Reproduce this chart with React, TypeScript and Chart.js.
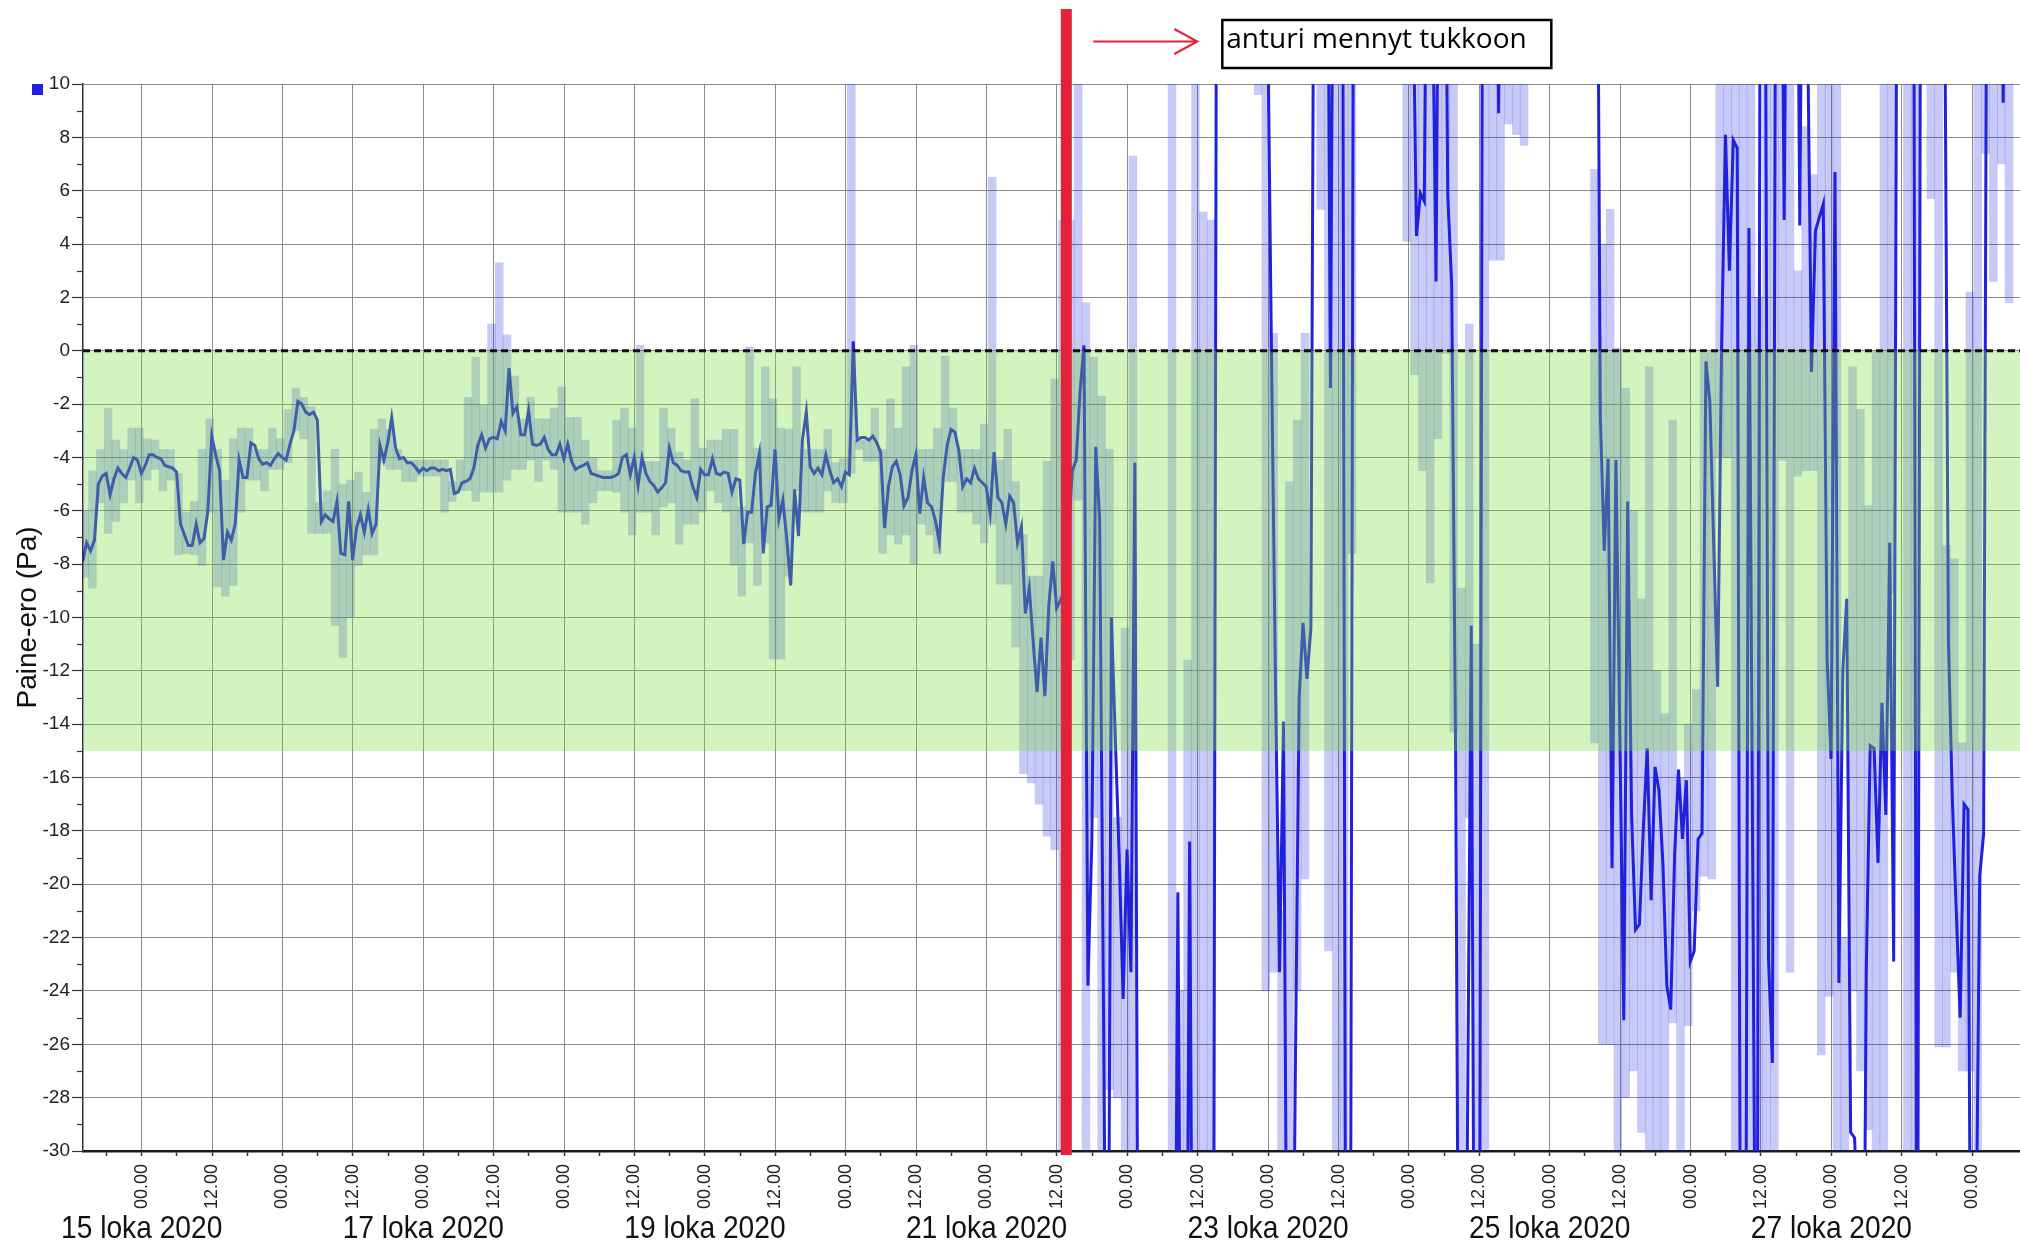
import React, { useEffect, useRef } from 'react';
import { Chart, registerables } from 'chart.js';

Chart.register(...registerables);

// ---- sampling (hours counted from 15 loka 2020 00.00) ----
const sampleStartHour = -10.05;
const sampleStepHours = 40 / 60;

// pressure difference (Pa), mean per sample, before the sensor clogged
const pressureBeforeClog: number[] = [
  -7.9, -7.2, -7.5, -7.1, -5.0, -4.7, -4.6, -5.4, -4.8, -4.4,
  -4.6, -4.75, -4.4, -4.0, -4.1, -4.6, -4.3, -3.9, -3.9, -4.0,
  -4.05, -4.3, -4.35, -4.4, -4.55, -6.5, -6.9, -7.3, -7.3, -6.5,
  -7.2, -7.05, -6.0, -3.2, -3.9, -4.5, -7.85, -6.8, -7.1, -6.5,
  -4.1, -4.75, -4.75, -3.45, -3.55, -4.05, -4.25, -4.2, -4.3, -4.05,
  -3.85, -4.0, -4.1, -3.5, -3.0, -1.9, -2.0, -2.3, -2.4, -2.3,
  -2.6, -6.4, -6.15, -6.3, -6.4, -5.65, -7.6, -7.65, -5.65, -7.85,
  -6.65, -6.15, -6.8, -5.95, -6.85, -6.5, -3.55, -4.1, -3.45, -2.5,
  -3.65, -4.05, -4.0, -4.2, -4.2, -4.35, -4.55, -4.4, -4.5, -4.4,
  -4.4, -4.5, -4.45, -4.5, -4.45, -5.35, -5.3, -4.95, -4.9, -4.8,
  -4.4, -3.55, -3.15, -3.65, -3.3, -3.25, -3.3, -2.65, -3.0, -0.65,
  -2.35, -2.1, -3.15, -3.15, -2.25, -3.5, -3.55, -3.5, -3.25, -3.7,
  -3.9, -3.9, -3.5, -4.05, -3.5, -4.15,
  -4.45, -4.35, -4.3, -4.2, -4.6, -4.65, -4.7, -4.75, -4.75, -4.75,
  -4.7, -4.6, -4.0, -3.9, -4.65, -4.0, -5.05, -4.0, -4.6, -4.9,
  -5.05, -5.3, -5.15, -4.95, -3.65, -4.2, -4.3, -4.5, -4.55, -4.55,
  -5.1, -5.5, -4.45, -4.65, -4.65, -4.05, -4.6, -4.65, -4.55, -4.6,
  -5.3, -4.8, -4.85, -7.25, -6.05, -6.05, -4.6, -3.85, -7.6, -5.85,
  -5.8, -3.7, -6.3, -5.6, -7.05, -8.8, -5.2, -6.95, -3.35, -2.3,
  -4.35, -4.6, -4.4, -4.65, -3.9, -4.5, -4.95, -4.8, -5.1, -4.55,
  -4.65, 0.35, -3.35, -3.25, -3.25, -3.35, -3.2, -3.45, -3.8, -6.65,
  -5.1, -4.35, -4.15, -4.65, -5.8, -5.5, -4.5, -3.9, -6.1, -4.75,
  -5.7, -5.85, -6.35, -7.2, -4.75, -3.55, -2.95, -3.05, -3.75, -5.1,
  -4.8, -4.95, -4.4, -4.8, -4.95, -5.1, -6.1, -3.8, -5.5, -5.7,
  -6.5, -5.45, -5.7, -7.2, -6.6, -9.85, -8.9, -10.9, -12.8, -10.75,
  -12.95, -9.55, -7.9, -9.65, -9.35,
];

// pressure difference (Pa) after the sensor clogged (values beyond the axis range are off-chart)
const pressureAfterClog: number[] = [
  -9.0, -7.0, -4.5, -4.1, -1.5, 0.2, -23.8, -18.4, -3.6, -6.3,
  -25, -45, -10, -14.5, -19, -24.3, -18.7, -23.3, -4.2, -45,
  -45, -45, -45, -45, -45, -45, -45, -45, -45,
  -20.3, -45, -45, -18.4,
  -45, -45, -45, -45, -45, -45,
  25, 25, 25, 25, 25, 25, 25, 25, 25, 25, 25, 25, 25,
  12, -1, -13, -23.3, -13.9, -40, -45, -27.5, -13, -10.2, -12.3, -10.4,
  25, 25, 25, 25,
  -1.4,
  25, 25, 25,
  -45, -45,
  25, 25, 25, 25, 25, 25, 25, 25, 25, 25, 25, 25, 25, 25, 25,
  15, 4.3, 5.9, 5.6, 25, 15, 2.6, 25, 25, 5.8, 2.5, -14.9, -45, -45, -30, -10.3, -45, -45,
  25, 25, 25, 25,
  8.9,
  25, 25, 25, 25, 25, 25, 25, 25, 25, 25, 25, 25, 25, 25, 25, 25, 25, 25, 25, 25, 25, 25, 25, 25, 25,
  -2.4, -7.5, -4.05, -19.4, -4.1, -14.5, -25.1, -5.65, -17.4, -21.7,
  -21.5, -17.9, -14.9, -20.6, -15.6, -16.5, -19.2, -23.8, -24.7, -18.9,
  -15.7, -18.3, -16.1, -22.9, -22.5, -18.3, -18.1, -0.4, -1.9, -7.3,
  -12.6, 0.1, 8.1, 3.0, 7.9, 7.6,
  -45, -45, 4.6, -20, -45, 25, 25, -22.8, -26.7,
  25, 25, 4.9, 25, 25, 25, 4.7, 25, 12, -0.8, 4.5, 5.0, 5.5,
  -11.6, -15.3, 6.7, -23.7, -12.0, -9.3, -29.3, -29.5, -33, -45,
  -23.3, -14.8, -14.9, -19.2, -13.2, -17.4, -7.2, -22.9,
  25, 25, 25, 25, 25,
  -45,
  25, 25, 25, 25, 25, 25,
  15, -10.9, -16.8, -21, -25.0, -17.0, -17.2, -45, -35, -19.7, -18.1,
  25, 25, 25, 25,
  9.3, 25, 25,
];

type Range = [number, number] | null;

// min / max spread per pair of samples, before the clog
const rangeBeforeClog: Range[] = [
  [-8.5, -6.0], [-8.9, -4.5], [-5.7, -3.7], [-6.85, -2.15], [-6.4, -3.35],
  [-5.7, -3.7], [-4.85, -2.9], [-5.7, -2.9], [-4.85, -3.3], [-4.45, -3.35],
  [-5.25, -3.7], [-4.85, -3.7], [-7.65, -4.6], [-7.6, -6.05], [-7.65, -5.65],
  [-8.05, -3.7], [-6.05, -2.55], [-8.85, -3.7], [-9.2, -4.85], [-8.8, -3.3],
  [-6.05, -2.9], [-4.85, -2.9], [-4.85, -3.7], [-5.25, -3.7], [-4.45, -2.9],
  [-4.45, -3.3], [-4.2, -2.2], [-3.0, -1.4], [-3.3, -1.75], [-6.85, -2.1],
  [-6.85, -5.7], [-6.85, -5.25], [-10.3, -3.7], [-11.5, -5.0], [-10.0, -4.85],
  [-8.05, -4.55], [-7.65, -5.3], [-7.65, -2.95], [-4.2, -2.55], [-4.45, -2.95],
  [-4.45, -3.7], [-4.9, -4.1], [-4.9, -4.1], [-4.7, -4.1], [-4.7, -4.1],
  [-4.7, -4.1], [-6.05, -4.1], [-5.65, -4.9], [-5.25, -4.1], [-5.25, -1.75],
  [-5.65, -0.25], [-5.3, -2.05], [-5.3, 1.0], [-5.3, 3.3], [-4.85, 0.6],
  [-4.45, -0.95], [-4.45, -2.55], [-4.1, -1.75], [-4.9, -2.55], [-4.1, -2.55],
  [-4.45, -2.15], [-6.05, -1.35], [-6.05, -2.5],
  [-6.05, -2.5], [-6.5, -3.35], [-5.7, -4.0], [-5.25, -4.5], [-5.25, -4.5],
  [-5.3, -2.6], [-6.05, -2.15], [-6.9, -2.9], [-6.05, 0.2], [-6.05, -4.15],
  [-6.9, -4.15], [-5.85, -2.15], [-5.7, -2.9], [-7.25, -3.8], [-6.5, -4.1],
  [-6.5, -1.8], [-6.05, -3.65], [-5.25, -3.35], [-5.7, -3.35], [-6.05, -2.95],
  [-8.05, -2.95], [-9.2, -5.85], [-7.2, 0.15], [-8.8, -3.65], [-7.2, -0.6],
  [-11.55, -1.8], [-11.55, -2.9], [-8.45, -2.95], [-5.25, -0.6], [-6.05, -3.7],
  [-6.05, -3.7], [-6.05, -3.7], [-5.25, -2.95], [-5.7, -4.2], [-5.7, -4.05],
  [-4.6, 10.5], [-3.7, -3.35], [-4.15, -3.35], [-4.15, -2.15], [-7.6, -3.7],
  [-6.9, -1.8], [-7.25, -2.9], [-6.9, -0.6], [-8.0, 0.2], [-6.5, -3.7],
  [-6.9, -3.7], [-7.6, -2.9], [-4.9, -0.2], [-4.9, -2.15], [-6.05, -3.7],
  [-6.05, -3.7], [-6.5, -3.7], [-7.2, -2.75], [-6.5, 6.5], [-8.75, -4.1],
  [-8.75, -2.95], [-11.1, -4.9], [-15.85, -6.9], [-16.2, -8.45], [-17.0, -8.45],
  [-18.2, -4.15], [-18.7, -1.05],
];

// min / max spread per pair of samples, after the clog (null = nothing visible)
const rangeAfterClog: Range[] = [
  [-30, 4.9], [-11.6, 4.9], [-5.6, 10.5], [-30.5, 1.8], [-17.5, -0.25],
  [-30.5, -1.7], [-27.7, -3.7], [-28, -17.5], [-30.5, -10.4], [-30.5, 7.3],
  null, null, null, null,
  [-30.5, 10.5], [-30.5, -24], [-30.5, -11.6], [-30.5, 10.5], [-30.5, 5.2], [-30.5, 4.9],
  null, null, null, null, null,
  [9.6, 10.5], [-24, 10.5], [-23.3, 0.65], [-30.5, -21], [-30.5, -4.9],
  [-24, -2.6], [-19.8, 0.65], null, [5.3, 10.5], [-22.5, 10.5],
  [-30.5, 10.5], [-30.5, 10.5], [-7.6, 10.5],
  null, null, null, null, null, null,
  [4.1, 10.5], [-0.9, 10.5], [-4.5, 10.5], [-8.7, 10.5], [-3.3, 10.5],
  [-0.1, 10.5], [-14.3, 10.5], [-30.5, -8.9], [-17.5, 1.0], [-30.5, -11],
  [-30.5, 10.5], [3.4, 10.5], [3.4, 10.5], [8.5, 10.5], [8.1, 10.5], [7.7, 10.5],
  null, null, null, null, null, null, null, null,
  [-14.7, 6.8], [-26, 4.0], [-26, 5.3], [-30.5, 0.1], [-28, -1.4],
  [-27, -6], [-29.3, -9.3], [-30.5, -0.6], [-30, -12], [-30.5, -13.6],
  [-25.2, -2.6], [-30.5, -16], [-25.3, -14], [-21, -12.7], [-19.7, -0.1],
  [-19.8, 0], [-4, 10.5], [-4, 10.5], [-30.5, 10.5], [-30.5, 10.5],
  [-30.5, 10.5], [-30.5, 2.0], [-30.5, 10.5], [-30.5, 10.5], [-4.1, 10.5],
  [-23.3, 10.5], [-4.7, 3.0], [-4.5, 8.4], [-4.5, 6.6], [-26.4, 10.5],
  [-24.2, 10.5], [-30.5, 10.5], [-30.5, -22], [-24, -0.6], [-27, -2.2],
  [-29.2, -5.8], [-30.5, 0], [-30.5, 10.5], [-9.1, 10.5], null,
  [-30.5, 10.5], [-30.5, 10.5], null, [5.7, 10.5], [-26.1, 10.5],
  [-26.1, -7.3], [-23.3, -7.8], [-27, -14.7], [-27, 2.2], [-30.5, 10.5],
  [7.4, 10.5], [2.6, 10.5], [7.0, 10.5], [1.8, 10.5],
];

// ---- axes ----
const axisMinHour = -10;
const axisMaxHour = 320.15;
const pressureMin = -30;
const pressureMax = 10;
const acceptableTop = 0;
const acceptableBottom = -15;
const clogMarkerHour = 157.6;
const dateLabelHours = [0, 48, 96, 144, 192, 240, 288];
const dateLabelTexts = ['15 loka 2020', '17 loka 2020', '19 loka 2020', '21 loka 2020', '23 loka 2020', '25 loka 2020', '27 loka 2020'];
const annotationText = 'anturi mennyt tukkoon';
const yAxisTitle = 'Paine-ero (Pa)';

const FONT = "'Liberation Sans', Arial, Helvetica, sans-serif";

const overlayPlugin = {
  id: 'overlay',
  afterDatasetsDraw(chart: any) {
    const { ctx, chartArea: a, scales } = chart;
    const y = scales.y;
    ctx.save();
    // acceptable-range band, drawn on top with transparency
    const yTop = y.getPixelForValue(acceptableTop);
    const yBot = y.getPixelForValue(acceptableBottom);
    ctx.fillStyle = 'rgba(120,220,60,0.33)';
    ctx.fillRect(a.left + 1, yTop, a.right - a.left - 1, yBot - yTop);
    // dashed zero line
    ctx.setLineDash([7, 4]);
    ctx.lineWidth = 3;
    ctx.strokeStyle = '#111';
    ctx.beginPath();
    ctx.moveTo(a.left, yTop);
    ctx.lineTo(a.right, yTop);
    ctx.stroke();
    ctx.setLineDash([]);
    // minor y ticks
    ctx.strokeStyle = '#333';
    ctx.lineWidth = 1.2;
    for (let v = pressureMin + 1; v < pressureMax; v += 2) {
      const py = Math.round(y.getPixelForValue(v)) + 0.5;
      ctx.beginPath();
      ctx.moveTo(a.left - 6, py);
      ctx.lineTo(a.left, py);
      ctx.stroke();
    }
    ctx.restore();
  },
  afterDraw(chart: any) {
    const { ctx, chartArea: a, scales } = chart;
    const x = scales.x;
    ctx.save();
    // clog marker
    const mx = x.getPixelForValue(clogMarkerHour);
    ctx.fillStyle = '#e3223a';
    ctx.fillRect(mx - 5.5, 9, 11, a.bottom + 4 - 9);
    // arrow
    ctx.strokeStyle = '#e3223a';
    ctx.lineWidth = 2;
    ctx.beginPath();
    ctx.moveTo(mx + 27, 41.5);
    ctx.lineTo(mx + 131, 41.5);
    ctx.moveTo(mx + 108, 29);
    ctx.lineTo(mx + 131, 41.5);
    ctx.lineTo(mx + 108, 54);
    ctx.stroke();
    // annotation box
    ctx.strokeStyle = '#000';
    ctx.lineWidth = 2.5;
    ctx.strokeRect(mx + 156, 20, 329, 48);
    ctx.fillStyle = '#000';
    ctx.font = "28px 'Open Sans', sans-serif";
    ctx.textAlign = 'left';
    ctx.textBaseline = 'alphabetic';
    ctx.fillText(annotationText, mx + 160, 48);
    // legend swatch
    ctx.fillStyle = '#2020e0';
    ctx.fillRect(32, 84, 11, 11);
    // date labels
    ctx.fillStyle = '#111';
    ctx.font = `32px ${FONT}`;
    ctx.textAlign = 'center';
    for (let i = 0; i < dateLabelHours.length; i++) {
      const px = x.getPixelForValue(dateLabelHours[i]);
      ctx.save();
      ctx.translate(px, 1238);
      ctx.scale(0.88, 1);
      ctx.fillText(dateLabelTexts[i], 0, 0);
      ctx.restore();
    }
    ctx.restore();
  },
};

const isMultiple = (v: number, m: number) => {
  const r = ((v % m) + m) % m;
  return r < 1e-6 || m - r < 1e-6;
};

export default function App() {
  const canvasRef = useRef<HTMLCanvasElement>(null);

  useEffect(() => {
    if (!canvasRef.current) return;
    Chart.defaults.font.family = FONT;
    const pressure = [...pressureBeforeClog, ...pressureAfterClog];
    const linePoints = pressure.map((v, i) => ({ x: sampleStartHour + i * sampleStepHours, y: v }));
    const ranges = [...rangeBeforeClog, ...rangeAfterClog];
    const barPoints: { x: number; y: [number, number] }[] = [];
    ranges.forEach((r, i) => {
      if (r) barPoints.push({ x: sampleStartHour + (2 * i + 0.5) * sampleStepHours, y: r });
    });

    const chart = new Chart(canvasRef.current, {
      type: 'bar',
      data: {
        datasets: [
          {
            type: 'line',
            data: linePoints,
            borderColor: '#2121dc',
            borderWidth: 3,
            pointRadius: 0,
            tension: 0,
            fill: false,
            clip: 0,
            order: 0,
          } as any,
          {
            type: 'bar',
            data: barPoints as any,
            backgroundColor: 'rgba(40,45,225,0.26)',
            borderWidth: 0,
            barPercentage: 1,
            categoryPercentage: 1,
            clip: 0,
            order: 1,
          } as any,
        ],
      },
      options: {
        responsive: false,
        animation: false,
        layout: { padding: { top: 84, right: 0, bottom: 0, left: 0 }, autoPadding: false } as any,
        plugins: { legend: { display: false }, tooltip: { enabled: false } },
        scales: {
          x: {
            type: 'linear',
            min: axisMinHour,
            max: axisMaxHour,
            offset: false,
            grid: {
              offset: false,
              color: (c: any) => (c.tick && isMultiple(c.tick.value, 12) ? '#8c8c8c' : 'rgba(0,0,0,0)'),
              lineWidth: 1,
              drawTicks: true,
              tickLength: 5,
              tickWidth: 1.5,
              tickColor: (c: any) => (c.tick && isMultiple(c.tick.value, 6) ? '#333' : 'rgba(0,0,0,0)'),
            },
            border: { display: true, color: '#1a1a1a', width: 2.5 },
            ticks: {
              stepSize: 6,
              autoSkip: false,
              minRotation: 90,
              maxRotation: 90,
              padding: 8,
              color: '#222',
              font: { size: 18, family: FONT },
              callback: (v: any) => {
                const n = Number(v);
                if (isMultiple(n, 24)) return '00.00';
                if (isMultiple(n, 12)) return '12.00';
                return '';
              },
            },
            afterFit: (s: any) => {
              s.height = 93;
              s.paddingLeft = 0;
              s.paddingRight = 0;
            },
          } as any,
          y: {
            type: 'linear',
            min: pressureMin,
            max: pressureMax,
            ticks: { stepSize: 2, padding: 2, color: '#222', font: { size: 19, family: FONT } },
            grid: { color: '#8c8c8c', lineWidth: 1, tickLength: 11, tickColor: '#333', tickWidth: 1.2 },
            border: { display: true, color: '#333', width: 1.5 },
            title: {
              display: true,
              text: yAxisTitle,
              color: '#111',
              font: { size: 28, family: FONT },
              padding: { top: 11, bottom: 0 },
            },
            afterFit: (s: any) => {
              s.width = 83;
              s.paddingTop = 0;
              s.paddingBottom = 0;
            },
          } as any,
        },
      },
      plugins: [overlayPlugin],
    });
    return () => chart.destroy();
  }, []);

  return (
    <div style={{ position: 'absolute', left: 0, top: 0, width: 2020, height: 1244, background: '#fff' }}>
      <canvas ref={canvasRef} width={2020} height={1244} style={{ width: 2020, height: 1244, display: 'block' }} />
    </div>
  );
}
